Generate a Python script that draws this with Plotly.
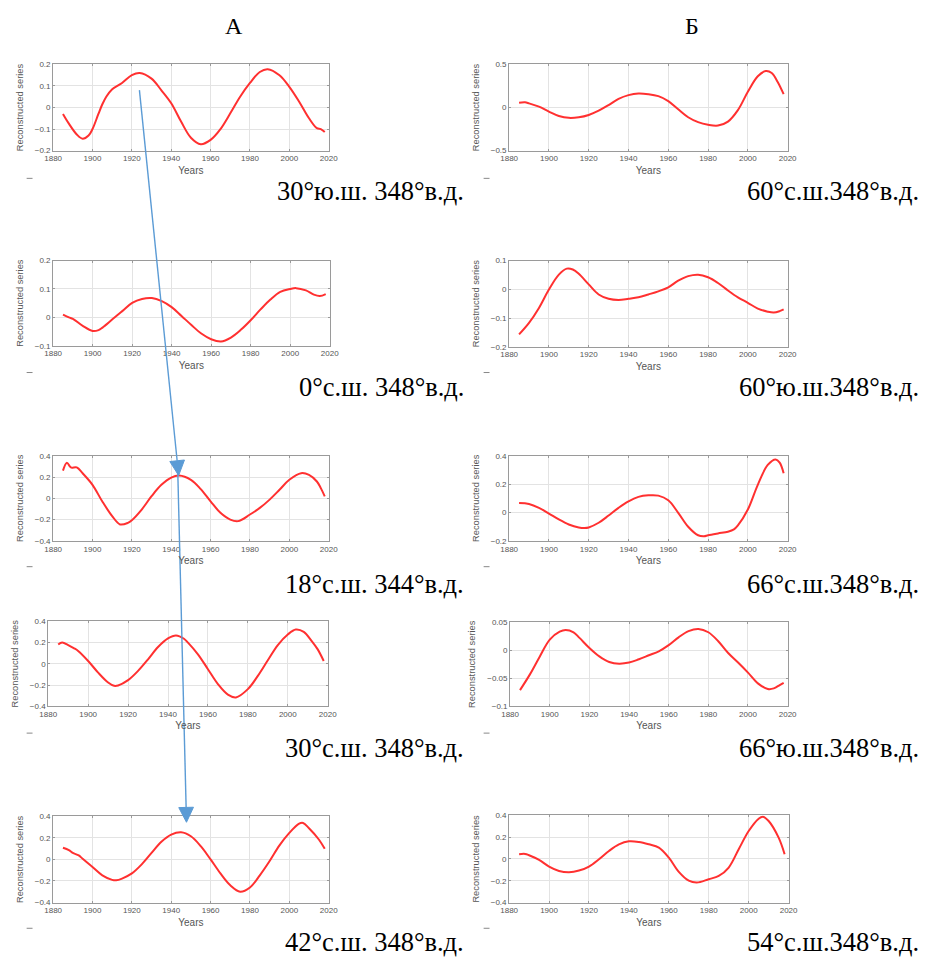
import math
import plotly.graph_objects as go

# ---------------- data ----------------
years_a1 = [1885, 1888, 1892, 1895, 1898, 1900, 1903, 1905, 1907, 1910, 1915, 1920, 1924, 1930, 1935, 1940, 1945, 1950, 1955, 1960, 1965, 1970, 1975, 1980, 1985, 1989, 1995, 2000, 2005, 2010, 2014, 2016, 2018]
vals_a1 = [-0.03, -0.075, -0.125, -0.145, -0.13, -0.10, -0.03, 0.015, 0.05, 0.085, 0.114, 0.15, 0.16, 0.134, 0.08, 0.02, -0.065, -0.14, -0.17, -0.15, -0.10, -0.027, 0.05, 0.114, 0.165, 0.178, 0.15, 0.096, 0.027, -0.05, -0.096, -0.10, -0.114]

years_a2 = [1885, 1888, 1890, 1895, 1900, 1903, 1905, 1910, 1915, 1920, 1925, 1930, 1935, 1940, 1945, 1950, 1955, 1960, 1965, 1970, 1975, 1980, 1985, 1990, 1995, 2000, 2003, 2008, 2012, 2015, 2018]
vals_a2 = [0.01, 0.0, -0.005, -0.03, -0.048, -0.045, -0.036, -0.007, 0.022, 0.051, 0.065, 0.068, 0.057, 0.036, 0.005, -0.027, -0.057, -0.077, -0.085, -0.071, -0.044, -0.01, 0.028, 0.063, 0.09, 0.10, 0.103, 0.095, 0.08, 0.075, 0.082]

years_a3 = [1885, 1887, 1889, 1892, 1895, 1900, 1905, 1910, 1914, 1918, 1920, 1925, 1930, 1935, 1940, 1944, 1950, 1955, 1960, 1965, 1970, 1974, 1980, 1985, 1990, 1995, 2000, 2006, 2010, 2014, 2016, 2018]
vals_a3 = [0.26, 0.335, 0.29, 0.29, 0.235, 0.127, -0.03, -0.167, -0.245, -0.23, -0.205, -0.105, 0.02, 0.127, 0.195, 0.214, 0.174, 0.087, -0.028, -0.136, -0.2, -0.214, -0.152, -0.09, -0.012, 0.08, 0.174, 0.236, 0.22, 0.158, 0.096, 0.019]

years_a4 = [1885, 1887, 1890, 1893, 1895, 1900, 1905, 1910, 1913, 1915, 1920, 1925, 1930, 1935, 1940, 1944, 1948, 1950, 1955, 1960, 1965, 1970, 1974, 1980, 1985, 1990, 1995, 2000, 2004, 2008, 2012, 2015, 2018]
vals_a4 = [0.18, 0.2, 0.175, 0.145, 0.12, 0.026, -0.083, -0.176, -0.207, -0.204, -0.154, -0.067, 0.042, 0.157, 0.238, 0.266, 0.235, 0.198, 0.089, -0.051, -0.191, -0.29, -0.316, -0.238, -0.114, 0.033, 0.176, 0.275, 0.322, 0.30, 0.213, 0.135, 0.026]

years_a5 = [1885, 1888, 1890, 1893, 1895, 1900, 1905, 1910, 1912, 1915, 1920, 1925, 1930, 1935, 1940, 1945, 1950, 1955, 1960, 1965, 1970, 1975, 1980, 1985, 1990, 1995, 2000, 2005, 2007, 2010, 2015, 2018]
vals_a5 = [0.108, 0.086, 0.06, 0.037, 0.006, -0.07, -0.148, -0.19, -0.194, -0.178, -0.13, -0.046, 0.06, 0.163, 0.23, 0.252, 0.215, 0.123, 0.0, -0.13, -0.24, -0.30, -0.26, -0.148, -0.015, 0.13, 0.246, 0.332, 0.338, 0.29, 0.185, 0.098]

years_b1 = [1885, 1888, 1890, 1895, 1900, 1905, 1910, 1915, 1920, 1925, 1930, 1935, 1940, 1945, 1950, 1955, 1960, 1965, 1970, 1975, 1980, 1985, 1990, 1995, 2000, 2005, 2009, 2012, 2015, 2018]
vals_b1 = [0.055, 0.06, 0.048, 0.01, -0.048, -0.098, -0.12, -0.113, -0.086, -0.036, 0.029, 0.10, 0.144, 0.163, 0.155, 0.132, 0.075, -0.021, -0.113, -0.17, -0.20, -0.209, -0.163, -0.03, 0.182, 0.362, 0.423, 0.40, 0.297, 0.155]

years_b2 = [1885, 1890, 1895, 1900, 1905, 1909, 1912, 1915, 1920, 1925, 1930, 1935, 1940, 1945, 1950, 1955, 1960, 1965, 1970, 1975, 1980, 1985, 1990, 1995, 2000, 2005, 2010, 2013, 2016, 2018]
vals_b2 = [-0.157, -0.117, -0.065, -0.001, 0.051, 0.072, 0.069, 0.054, 0.017, -0.018, -0.033, -0.037, -0.033, -0.028, -0.018, -0.007, 0.007, 0.03, 0.046, 0.051, 0.042, 0.022, -0.004, -0.028, -0.047, -0.067, -0.078, -0.081, -0.076, -0.07]

years_b3 = [1885, 1890, 1895, 1900, 1905, 1910, 1915, 1918, 1920, 1925, 1930, 1935, 1940, 1945, 1950, 1955, 1960, 1965, 1970, 1975, 1978, 1980, 1985, 1990, 1993, 1995, 2000, 2005, 2010, 2014, 2016, 2018]
vals_b3 = [0.067, 0.06, 0.033, -0.007, -0.049, -0.084, -0.105, -0.109, -0.105, -0.072, -0.021, 0.033, 0.079, 0.11, 0.121, 0.119, 0.086, -0.002, -0.10, -0.16, -0.167, -0.16, -0.147, -0.135, -0.119, -0.091, 0.021, 0.195, 0.335, 0.374, 0.351, 0.277]

years_b4 = [1885, 1890, 1895, 1900, 1905, 1908, 1912, 1915, 1920, 1925, 1930, 1935, 1940, 1945, 1950, 1955, 1960, 1965, 1970, 1975, 1980, 1985, 1990, 1995, 2000, 2005, 2010, 2013, 2016, 2018]
vals_b4 = [-0.071, -0.043, -0.011, 0.019, 0.033, 0.036, 0.032, 0.022, 0.004, -0.011, -0.021, -0.024, -0.022, -0.016, -0.009, -0.002, 0.009, 0.023, 0.034, 0.038, 0.032, 0.016, -0.005, -0.022, -0.04, -0.059, -0.069, -0.068, -0.062, -0.058]

years_b5 = [1885, 1888, 1890, 1895, 1900, 1905, 1910, 1915, 1920, 1925, 1930, 1935, 1940, 1945, 1950, 1955, 1960, 1965, 1970, 1974, 1980, 1985, 1990, 1995, 2000, 2005, 2007, 2010, 2015, 2018]
vals_b5 = [0.043, 0.046, 0.034, -0.009, -0.07, -0.11, -0.122, -0.107, -0.07, -0.003, 0.073, 0.134, 0.162, 0.156, 0.134, 0.104, 0.012, -0.119, -0.2, -0.217, -0.186, -0.156, -0.079, 0.089, 0.256, 0.369, 0.388, 0.348, 0.195, 0.043]

x_ticks = [1880, 1900, 1920, 1940, 1960, 1980, 2000, 2020]

y_ranges = {
    "a1": [-0.2, 0.2], "a2": [-0.1, 0.2], "a3": [-0.4, 0.4], "a4": [-0.4, 0.4], "a5": [-0.4, 0.4],
    "b1": [-0.5, 0.5], "b2": [-0.2, 0.1], "b3": [-0.2, 0.4], "b4": [-0.1, 0.05], "b5": [-0.4, 0.4],
}
y_dticks = {"a1": 0.1, "a2": 0.1, "a3": 0.2, "a4": 0.2, "a5": 0.2,
            "b1": 0.5, "b2": 0.1, "b3": 0.2, "b4": 0.05, "b5": 0.2}

labels = {
    "a1": "30°ю.ш. 348°в.д.", "a2": "0°с.ш. 348°в.д.", "a3": "18°с.ш. 344°в.д.",
    "a4": "30°с.ш. 348°в.д.", "a5": "42°с.ш. 348°в.д.",
    "b1": "60°с.ш.348°в.д.", "b2": "60°ю.ш.348°в.д.", "b3": "66°с.ш.348°в.д.",
    "b4": "66°ю.ш.348°в.д.", "b5": "54°с.ш.348°в.д.",
}
column_titles = ["А", "Б"]

series = {
    "a1": (years_a1, vals_a1), "a2": (years_a2, vals_a2), "a3": (years_a3, vals_a3),
    "a4": (years_a4, vals_a4), "a5": (years_a5, vals_a5),
    "b1": (years_b1, vals_b1), "b2": (years_b2, vals_b2), "b3": (years_b3, vals_b3),
    "b4": (years_b4, vals_b4), "b5": (years_b5, vals_b5),
}

# ---------------- layout geometry (pixels) ----------------
W, H = 930, 962
boxes = {
    "a1": (45, 326, 61, 148), "a2": (45, 327, 259, 345), "a3": (45, 326, 456, 542),
    "a4": (40, 325, 623, 709), "a5": (45, 326, 820, 907),
    "b1": (510, 794, 61, 148), "b2": (510, 794, 259, 346), "b3": (510, 794, 456, 542),
    "b4": (511, 794, 624, 709), "b5": (510, 795, 819, 907),
}
label_y = {"1": 189, "2": 387, "3": 585, "4": 751, "5": 947}
label_x = {"a": 466, "b": 930}
dash_y = {"1": 176, "2": 372, "3": 568, "4": 736, "5": 933}


def px(x):
    return x / W


def py(y):
    return 1 - y / H


fig = go.Figure()
layout = dict(
    width=W, height=H, margin=dict(l=0, r=0, t=0, b=0),
    paper_bgcolor="white", plot_bgcolor="white", showlegend=False,
    font=dict(family="Arial, Liberation Sans, sans-serif", color="#555555"),
)

grid_c = "#e3e3e3"
line_c = "#9a9a9a"
annotations = []
shapes = []

for i, key in enumerate(["a1", "a2", "a3", "a4", "a5", "b1", "b2", "b3", "b4", "b5"]):
    n = i + 1
    xs, ys = series[key]
    l, r, t, b = boxes[key]
    xa = "x" if n == 1 else f"x{n}"
    ya = "y" if n == 1 else f"y{n}"
    fig.add_trace(go.Scatter(x=xs, y=ys, mode="lines", xaxis=xa, yaxis=ya,
                             line=dict(color="#ff3030", width=2, shape="spline", smoothing=1.0),
                             hoverinfo="skip"))
    xname = "xaxis" if n == 1 else f"xaxis{n}"
    yname = "yaxis" if n == 1 else f"yaxis{n}"
    layout[xname] = dict(
        domain=[px(l), px(r)], anchor=ya, range=[1880, 2020], tickvals=x_ticks,
        showgrid=True, gridcolor=grid_c, gridwidth=1, zeroline=False,
        showline=True, linecolor=line_c, linewidth=1, mirror="ticks",
        ticks="inside", ticklen=2, tickcolor=line_c,
        tickfont=dict(size=8, color="#555555"),
        title=dict(text="Years", font=dict(size=10, color="#555555"), standoff=4),
    )
    lo, hi = y_ranges[key]
    layout[yname] = dict(
        domain=[py(b), py(t)], anchor=xa, range=[lo, hi], dtick=y_dticks[key], tick0=0,
        showgrid=True, gridcolor=grid_c, gridwidth=1, zeroline=False,
        showline=True, linecolor=line_c, linewidth=1, mirror="ticks",
        ticks="inside", ticklen=2, tickcolor=line_c,
        tickfont=dict(size=8, color="#555555"),
        title=dict(text="Reconstructed series", font=dict(size=9.3, color="#555555"), standoff=9),
    )
    col, row = key[0], key[1]
    annotations.append(dict(
        x=px(label_x[col]), y=py(label_y[row]), xref="paper", yref="paper",
        xanchor="right", yanchor="middle", showarrow=False, text=labels[key],
        font=dict(family="Liberation Serif, Times New Roman, serif", size=26.5, color="black"),
    ))
    dx = 18 if col == "a" else 484
    shapes.append(dict(type="line", xref="paper", yref="paper",
                       x0=px(dx), x1=px(dx + 6), y0=py(dash_y[row]), y1=py(dash_y[row]),
                       line=dict(color="#888888", width=1)))

for txt, xc in zip(column_titles, [229, 696]):
    annotations.append(dict(
        x=px(xc), y=py(22), xref="paper", yref="paper", xanchor="center", yanchor="middle",
        showarrow=False, text=txt,
        font=dict(family="Liberation Serif, Times New Roman, serif", size=24, color="black"),
    ))

# blue arrows (decorations)
arrow_c = "#5b9bd5"
arrows = [((133, 87), (173, 476)), ((172, 468), (181, 826))]
for (sx, sy), (tx, ty) in arrows:
    dxv, dyv = tx - sx, ty - sy
    L = math.hypot(dxv, dyv)
    ux, uy = dxv / L, dyv / L
    hl, hw = 15, 7.5
    bx, by = tx - ux * hl, ty - uy * hl
    shapes.append(dict(type="line", xref="paper", yref="paper",
                       x0=px(sx), y0=py(sy), x1=px(bx), y1=py(by),
                       line=dict(color=arrow_c, width=1.4)))
    c1 = (bx - uy * hw, by + ux * hw)
    c2 = (bx + uy * hw, by - ux * hw)
    path = (f"M {px(tx)} {py(ty)} L {px(c1[0])} {py(c1[1])} "
            f"L {px(c2[0])} {py(c2[1])} Z")
    shapes.append(dict(type="path", xref="paper", yref="paper", path=path,
                       fillcolor=arrow_c, line=dict(color=arrow_c, width=1)))

layout["annotations"] = annotations
layout["shapes"] = shapes
fig.update_layout(**layout)
fig.write_html("out.html", config={"displayModeBar": False},
               post_script="document.body.style.margin='0';document.body.style.overflow='hidden';")
